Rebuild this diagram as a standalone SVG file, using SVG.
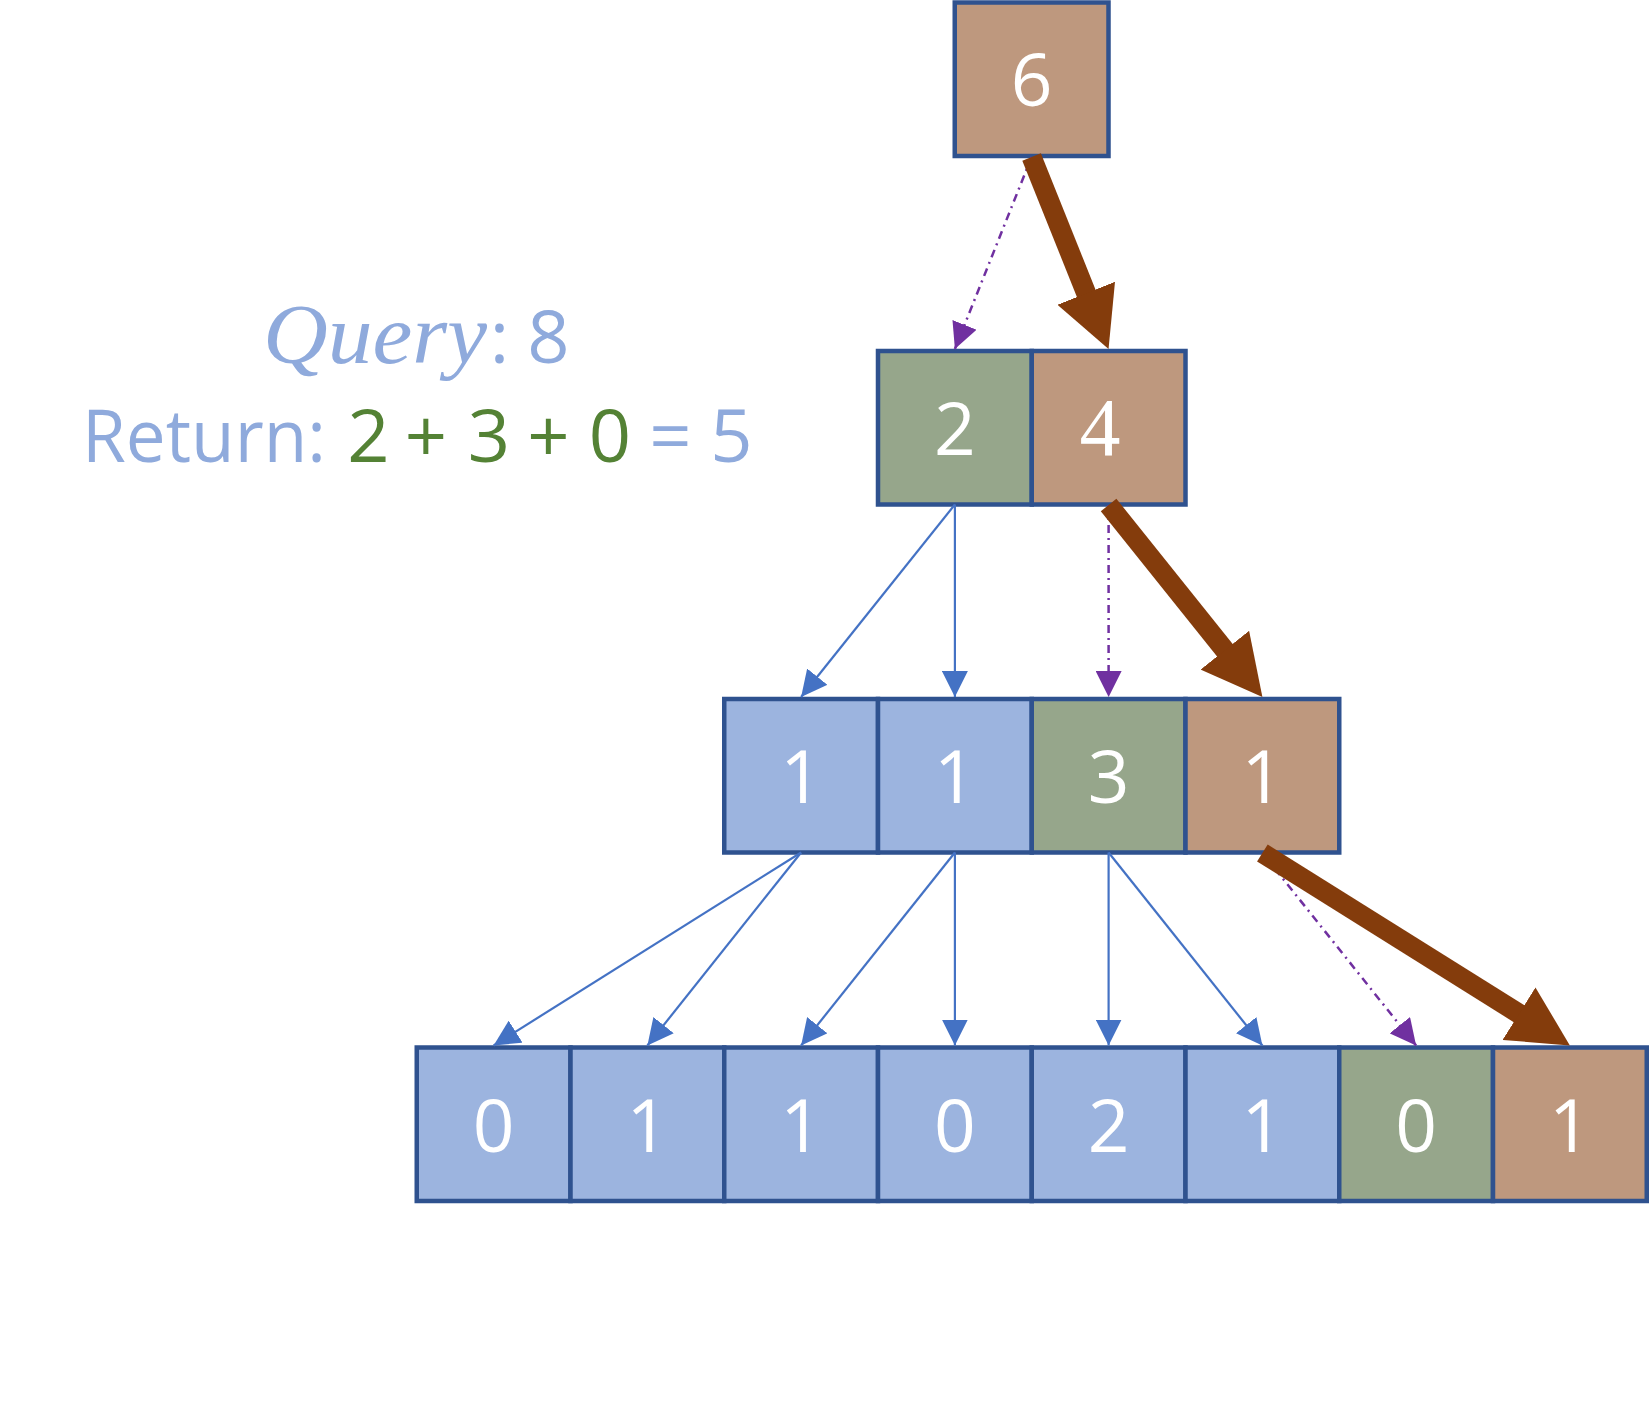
<svg xmlns="http://www.w3.org/2000/svg" width="1649" height="1425" viewBox="0 0 1649 1425">
<style>
.cell{stroke:#2F528F;stroke-width:4.5}
.blue{fill:#9CB4DF}
.green{fill:#96A68B}
.brown{fill:#BE987E}
.num{font-family:"Open Sans","Noto Sans","Liberation Sans",sans-serif;font-size:73px;fill:#FFFFFF;text-anchor:middle}
.numserif{font-family:"Liberation Serif","DejaVu Serif",serif;font-size:82px;fill:#FFFFFF;text-anchor:middle}
.thin{stroke:#4472C4;stroke-width:2.2;fill:none;marker-end:url(#blueHead)}
.dash{stroke:#7030A0;stroke-width:2.5;fill:none;stroke-dasharray:8 5 2 5;marker-end:url(#purpleHead)}
.thick{stroke:#843C0C;stroke-width:20;fill:none;stroke-linecap:butt;marker-end:url(#thickHead)}
.lbl{font-family:"Open Sans","Noto Sans","Liberation Sans",sans-serif;font-size:74px;fill:#8FAADC}
.grn{fill:#548235}
.mid{text-anchor:middle}
</style>
<defs>
<marker id="blueHead" markerUnits="userSpaceOnUse" markerWidth="26" markerHeight="26" refX="26" refY="13" orient="auto"><path d="M0,0 L26,13 L0,26 z" fill="#4472C4"/></marker>
<marker id="purpleHead" markerUnits="userSpaceOnUse" markerWidth="26" markerHeight="26" refX="26" refY="13" orient="auto"><path d="M0,0 L26,13 L0,26 z" fill="#7030A0"/></marker>
<marker id="thickHead" markerUnits="userSpaceOnUse" markerWidth="60" markerHeight="62" refX="8" refY="31" orient="auto"><path d="M0,0 L60,31 L0,62 z" fill="#843C0C"/></marker>
</defs>

<g id="label-query">
<text x="263" y="363" font-family="Liberation Serif, DejaVu Serif, serif" font-style="italic" font-size="84" fill="#8FAADC" textLength="224" lengthAdjust="spacingAndGlyphs">Query</text>
<text class="lbl mid" x="499.5" y="363">:</text>
<text class="lbl mid" x="548.5" y="363">8</text>
</g>
<g id="label-return">
<text class="lbl" x="82" y="462" textLength="244" lengthAdjust="spacingAndGlyphs">Return:</text>
<text class="lbl mid" y="462"><tspan class="grn" x="368.5">2</tspan><tspan class="grn" x="426">+</tspan><tspan class="grn" x="489">3</tspan><tspan class="grn" x="548.5">+</tspan><tspan class="grn" x="610">0</tspan><tspan x="670.5">=</tspan><tspan x="731.5">5</tspan></text>
</g>

<g id="n-root"><rect class="cell brown" x="954.75" y="2.5" width="153.75" height="153.5"/><text class="num" x="1031.6" y="106">6</text></g>

<g id="n-l1-0"><rect class="cell green" x="878" y="351" width="153.75" height="153.5"/><text class="num" x="954.9" y="455">2</text></g>
<g id="n-l1-1"><rect class="cell brown" x="1031.75" y="351" width="153.75" height="153.5"/><text class="numserif" x="1100" y="455">4</text></g>

<g id="n-l2-0"><rect class="cell blue" x="724.25" y="699" width="153.75" height="153.5"/><text class="num" x="801.1" y="803">1</text></g>
<g id="n-l2-1"><rect class="cell blue" x="878" y="699" width="153.75" height="153.5"/><text class="num" x="954.9" y="803">1</text></g>
<g id="n-l2-2"><rect class="cell green" x="1031.75" y="699" width="153.75" height="153.5"/><text class="num" x="1108.6" y="803">3</text></g>
<g id="n-l2-3"><rect class="cell brown" x="1185.5" y="699" width="153.75" height="153.5"/><text class="num" x="1262.4" y="803">1</text></g>

<g id="n-l3-0"><rect class="cell blue" x="416.75" y="1047.5" width="153.75" height="153.5"/><text class="num" x="493.6" y="1152">0</text></g>
<g id="n-l3-1"><rect class="cell blue" x="570.5" y="1047.5" width="153.75" height="153.5"/><text class="num" x="647.4" y="1152">1</text></g>
<g id="n-l3-2"><rect class="cell blue" x="724.25" y="1047.5" width="153.75" height="153.5"/><text class="num" x="801.1" y="1152">1</text></g>
<g id="n-l3-3"><rect class="cell blue" x="878" y="1047.5" width="153.75" height="153.5"/><text class="num" x="954.9" y="1152">0</text></g>
<g id="n-l3-4"><rect class="cell blue" x="1031.75" y="1047.5" width="153.75" height="153.5"/><text class="num" x="1108.6" y="1152">2</text></g>
<g id="n-l3-5"><rect class="cell blue" x="1185.5" y="1047.5" width="153.75" height="153.5"/><text class="num" x="1262.4" y="1152">1</text></g>
<g id="n-l3-6"><rect class="cell green" x="1339.25" y="1047.5" width="153.75" height="153.5"/><text class="num" x="1416.1" y="1152">0</text></g>
<g id="n-l3-7"><rect class="cell brown" x="1493" y="1047.5" width="153.75" height="153.5"/><text class="num" x="1569.9" y="1152">1</text></g>

<g id="connectors">
<path class="thin" d="M954.9,504.5 L801.1,697"/>
<path class="thin" d="M954.9,504.5 L954.9,697"/>
<path class="thin" d="M801.1,852.5 L493.6,1045.5"/>
<path class="thin" d="M801.1,852.5 L647.4,1045.5"/>
<path class="thin" d="M954.9,852.5 L801.1,1045.5"/>
<path class="thin" d="M954.9,852.5 L954.9,1045.5"/>
<path class="thin" d="M1108.6,852.5 L1108.6,1045.5"/>
<path class="thin" d="M1108.6,852.5 L1262.4,1045.5"/>
<path class="dash" d="M1031.6,157 L954.9,349"/>
<path class="dash" d="M1108.6,505 L1108.6,697"/>
<path class="dash" d="M1262.4,853 L1416.1,1045.5"/>
<path class="thick" d="M1031.6,157 L1089.2,300.7"/>
<path class="thick" d="M1108.6,505 L1229.9,656.4"/>
<path class="thick" d="M1262.4,853 L1525.8,1017.9"/>
</g>
</svg>
